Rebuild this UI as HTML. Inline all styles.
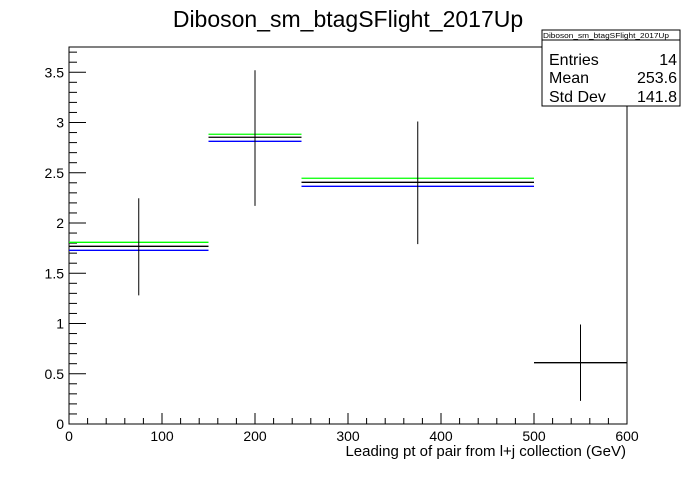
<!DOCTYPE html>
<html><head><meta charset="utf-8"><style>
body{margin:0;background:#fff;}
svg text{font-family:"Liberation Sans",Arial,sans-serif;}
</style></head><body>
<svg id="c" width="696" height="472" xmlns="http://www.w3.org/2000/svg">
<rect width="696" height="472" fill="#fff"/>
<text x="348" y="27" font-size="23" text-anchor="middle">Diboson_sm_btagSFlight_2017Up</text>
<rect x="69" y="47" width="558" height="377" fill="none" stroke="#000" stroke-width="1"/>
<g id="axes"></g>
<g id="marks"></g>
<text x="626" y="456" font-size="15" text-anchor="end">Leading pt of pair from l+j collection (GeV)</text>
<g>
<rect x="542" y="30" width="138" height="76" fill="#fff" stroke="#000"/>
<line x1="542" y1="40" x2="680" y2="40" stroke="#000"/>
<text x="543" y="38" font-size="7.5" textLength="126" lengthAdjust="spacingAndGlyphs">Diboson_sm_btagSFlight_2017Up</text>
<text x="549" y="65" font-size="16">Entries</text><text x="677" y="65" font-size="16" text-anchor="end">14</text>
<text x="549" y="83" font-size="16">Mean</text><text x="677" y="83" font-size="16" text-anchor="end">253.6</text>
<text x="549" y="102" font-size="16">Std Dev</text><text x="677" y="102" font-size="16" text-anchor="end">141.8</text>
</g>
</svg>
<script>
const binLow=[0,150,250,500];
const binHigh=[150,250,500,600];
const nominal=[1.768,2.853,2.405,0.61];
const upVar=[1.808,2.883,2.445,0];
const downVar=[1.728,2.813,2.365,0];
const errLow=[1.28,2.17,1.79,0.23];
const errHigh=[2.246,3.52,3.01,0.99];
const xTicks=[0,100,200,300,400,500,600];
const yTicks=[0,0.5,1,1.5,2,2.5,3,3.5];
const X=v=>69+v*558/600;
const Y=v=>424-v*100.5;
const NS="http://www.w3.org/2000/svg";
function mk(tag,attrs,parent){const e=document.createElementNS(NS,tag);for(const k in attrs)e.setAttribute(k,attrs[k]);parent.appendChild(e);return e;}
const ax=document.getElementById('axes'),mg=document.getElementById('marks');
for(let v=0;v<=600;v+=20){const big=v%100===0;const t=mk('line',{x1:X(v),x2:X(v),y1:424,y2:424-(big?11:6),stroke:'#000'},ax);

}
xTicks.forEach(v=>{const t=mk('text',{x:X(v),y:441,'font-size':14,'text-anchor':'middle'},ax);t.textContent=v;

});
for(let i=0;i<=37;i++){const v=i*0.1;const big=i%5===0;const t=mk('line',{x1:69,x2:69+(big?17:8),y1:Y(v),y2:Y(v),stroke:'#000'},ax);

}
yTicks.forEach(v=>{const t=mk('text',{x:64,y:Y(v)+5,'font-size':14,'text-anchor':'end'},ax);t.textContent=v;

});
function hline(arr,color,name){arr.forEach((v,i)=>{if(v<=0)return;const l=mk('line',{x1:X(binLow[i]),x2:X(binHigh[i]),y1:Y(v),y2:Y(v),stroke:color,'stroke-width':1.3},mg);

});}
hline(upVar,'#00ff00','up-variation-bin');
hline(downVar,'#0000ff','down-variation-bin');
hline(nominal,'#000','nominal-bin');
nominal.forEach((v,i)=>{const c=(binLow[i]+binHigh[i])/2;const l=mk('line',{x1:X(c),x2:X(c),y1:Y(errHigh[i]),y2:Y(errLow[i]),stroke:'#000','stroke-width':1},mg);

});
</script>
</body></html>
